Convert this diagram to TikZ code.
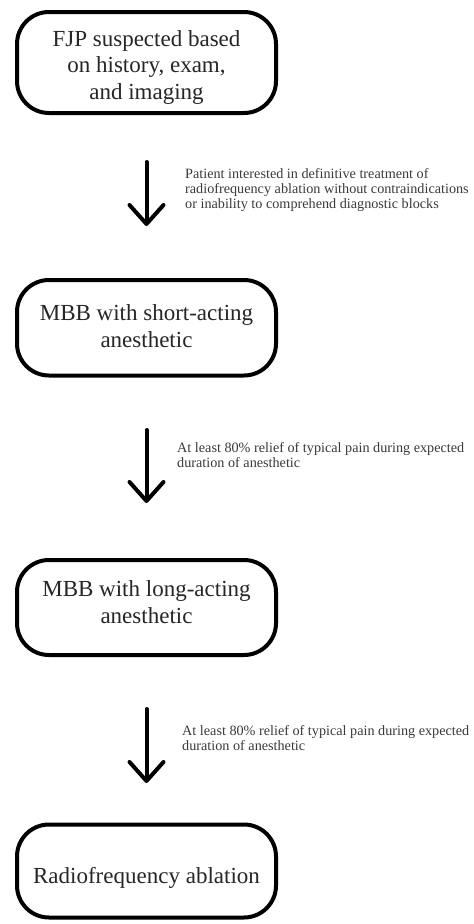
\documentclass[tikz,border=0pt]{standalone}
\usepackage{fontspec}
\setmainfont{Liberation Serif}
\usetikzlibrary{arrows.meta}
\definecolor{boxtext}{HTML}{262626}
\definecolor{labeltext}{HTML}{3A3A3A}
\begin{document}
\begin{tikzpicture}[x=1pt,y=1pt,
  stepbox/.style={draw=black, line width=4pt, rounded corners=32pt, inner sep=0pt,
    minimum width=259pt},
  steptext/.style={anchor=base, inner sep=0pt, align=center, text=boxtext,
    font=\fontsize{23}{26.5}\selectfont},
  flowarrow/.style={line width=4pt, line cap=round, line join=round,
    -{Straight Barb[length=19pt,width=34pt,line cap=round,line join=round]}},
  note/.style={anchor=base west, inner sep=0pt, align=left, text=labeltext,
    font=\fontsize{14.2}{15}\selectfont}
]
\useasboundingbox (0,0) rectangle (474,-924);
\fill[white] (0,0) rectangle (474,-924);

\node[stepbox, minimum height=101pt] (b1) at (146.5,-62.5) {};
\node[stepbox, minimum height=95.5pt] (b2) at (146.5,-327.75) {};
\node[stepbox, minimum height=95pt] (b3) at (146.5,-607.5) {};
\node[stepbox, minimum height=93pt] (b4) at (146.5,-871) {};

\node[steptext] (t1) at (146.5,-99) {FJP suspected based\\on history, exam,\\and imaging};
\node[steptext] (t2) at (146.5,-347) {MBB with short-acting\\anesthetic};
\node[steptext] (t3) at (146.5,-623) {MBB with long-acting\\anesthetic};
\node[steptext] (t4) at (146.5,-883) {Radiofrequency ablation};

\draw[flowarrow, shorten <=47pt, shorten >=52pt] (b1.south) -- (b2.north);
\draw[flowarrow, shorten <=52.5pt, shorten >=55pt] (b2.south) -- (b3.north);
\draw[flowarrow, shorten <=52pt, shorten >=39.5pt] (b3.south) -- (b4.north);

\node[note] (n1) at (185,-208) {Patient interested in definitive treatment of\\radiofrequency ablation without contraindications\\or inability to comprehend diagnostic blocks};
\node[note] (n2) at (177,-467) {At least 80\% relief of typical pain during expected\\duration of anesthetic};
\node[note] (n3) at (182,-750) {At least 80\% relief of typical pain during expected\\duration of anesthetic};
\end{tikzpicture}
\end{document}
